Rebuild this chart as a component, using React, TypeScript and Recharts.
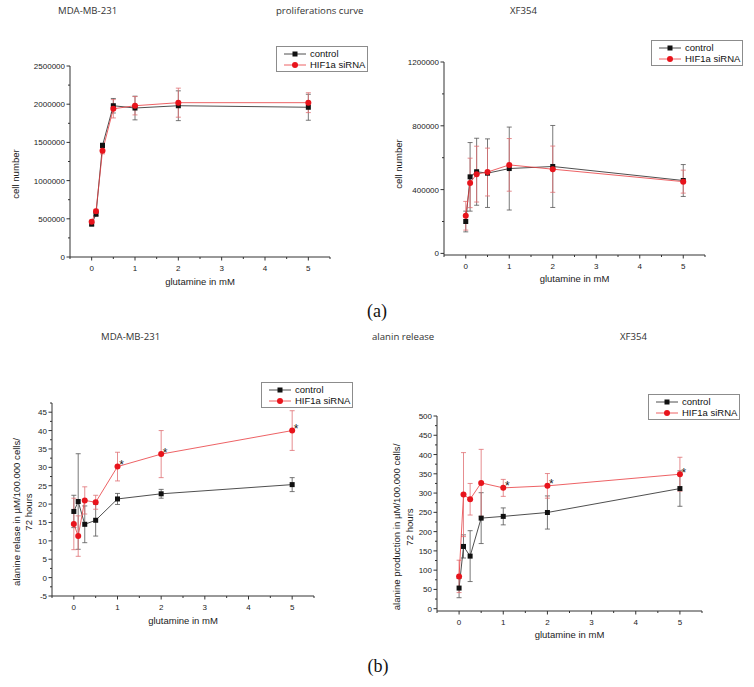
import { ComposedChart, Line, XAxis, YAxis, ErrorBar, Legend, LabelList, Label } from 'recharts'

// glutamine concentrations (mM), shared by all four panels
const glutamine = [0, 0.1, 0.25, 0.5, 1, 2, 5]
const glutamineTicks = [-0.5, 0, 0.5, 1, 1.5, 2, 2.5, 3, 3.5, 4, 4.5, 5, 5.5]
const seriesNames = ['control', 'HIF1a siRNA']

// (a) proliferation, MDA-MB-231
const mdaCellControl = [430000, 560000, 1460000, 1980000, 1950000, 1980000, 1960000]
const mdaCellControlErr = [20000, 20000, 30000, 95000, 155000, 195000, 170000]
const mdaCellHif = [460000, 600000, 1390000, 1940000, 1980000, 2020000, 2020000]
const mdaCellHifErr = [20000, 25000, 40000, 120000, 120000, 190000, 130000]
const mdaCellTicks = [0, 250000, 500000, 750000, 1000000, 1250000, 1500000, 1750000, 2000000, 2250000, 2500000]

// (a) proliferation, XF354
const xfCellControl = [200000, 480000, 512000, 503000, 532000, 545000, 457000]
const xfCellControlErr = [65000, 215000, 210000, 215000, 260000, 257000, 100000]
const xfCellHif = [236000, 442000, 497000, 510000, 555000, 528000, 450000]
const xfCellHifErr = [90000, 155000, 175000, 150000, 165000, 145000, 72000]
const xfCellTicks = [0, 200000, 400000, 600000, 800000, 1000000, 1200000]

// (b) alanine release, MDA-MB-231
const mdaAlaControl = [18.0, 20.7, 14.5, 15.6, 21.4, 22.8, 25.3]
const mdaAlaControlErr = [4.4, 13.0, 5.0, 4.3, 1.5, 1.2, 1.9]
const mdaAlaHif = [14.6, 11.3, 21.0, 20.5, 30.2, 33.6, 40.0]
const mdaAlaHifErr = [7.0, 5.5, 3.7, 1.9, 3.9, 6.4, 5.4]
const mdaAlaTicks = [-5, -2.5, 0, 2.5, 5, 7.5, 10, 12.5, 15, 17.5, 20, 22.5, 25, 27.5, 30, 32.5, 35, 37.5, 40, 42.5, 45, 47.5]

// (b) alanine production, XF354
const xfAlaControl = [53.5, 161.5, 136.4, 235, 239.5, 249.6, 311.7]
const xfAlaControlErr = [25, 30, 66, 66, 22, 43, 46]
const xfAlaHif = [83.8, 296, 284, 326.4, 313.5, 318.7, 348.9]
const xfAlaHifErr = [42, 109, 41, 87, 22, 32, 44]
const xfAlaTicks = [0, 25, 50, 75, 100, 125, 150, 175, 200, 225, 250, 275, 300, 325, 350, 375, 400, 425, 450, 475, 500]

// significance marks on the siRNA series
const alaStars = ['', '', '', '', '*', '*', '*']

const FONT = '"Liberation Sans", Arial, sans-serif'
const TITLE_FONT = '"Open Sans", "Noto Sans", sans-serif'
const AXIS = '#333'
const INK = '#222'
const RED = '#e8141c'
const TS = 4
const TM = 2

const buildRows = (c: number[], ce: number[], h: number[], he: number[], stars?: string[]) =>
  glutamine.map((x, i) => ({ x, control: c[i], cErr: ce[i], hif: h[i], hErr: he[i], star: stars ? stars[i] : '' }))

const renderXTick = (props: any) => {
  const { x, y, payload } = props
  const axisY = y - TS - TM
  const v = payload.value
  const major = Number.isInteger(v)
  return (
    <g>
      <line x1={x} x2={x} y1={axisY} y2={axisY + (major ? 3.5 : 2)} stroke={AXIS} />
      {major && (
        <text x={x} y={axisY + 13.5} textAnchor="middle" fontSize={8} fill={INK} fontFamily={FONT}>
          {v}
        </text>
      )}
    </g>
  )
}

const makeYTick = (step: number) => (props: any) => {
  const { x, y, payload } = props
  const axisX = x + TS + TM
  const v = payload.value
  const r = v / step
  const major = Math.abs(r - Math.round(r)) < 1e-6
  return (
    <g>
      <line x1={axisX - (major ? 3.5 : 2)} x2={axisX} y1={y} y2={y} stroke={AXIS} />
      {major && (
        <text x={axisX - 5} y={y + 3} textAnchor="end" fontSize={8} fill={INK} fontFamily={FONT}>
          {v}
        </text>
      )}
    </g>
  )
}

const squareDot = (props: any) => (
  <rect key={`sq-${props.index}`} x={props.cx - 2.5} y={props.cy - 2.5} width={5} height={5} fill="#111" />
)

const renderStar = (props: any) => {
  const { x, y, value } = props
  if (!value) return null
  return (
    <text x={x + 4} y={y + 2.5} textAnchor="middle" fontSize={12} fill={INK} fontFamily={FONT}>
      {value}
    </text>
  )
}

function LegendBox({ payload }: any) {
  const items = [...(payload || [])].sort(
    (a: any, b: any) => seriesNames.indexOf(a.value) - seriesNames.indexOf(b.value)
  )
  return (
    <div
      style={{
        border: '1px solid #8c8c8c',
        background: '#fff',
        padding: '1px 2px 1px 7px',
        fontFamily: FONT,
        fontSize: 9.5,
        color: '#111',
        lineHeight: '11px',
      }}
    >
      {items.map((p: any) => (
        <div key={p.value} style={{ display: 'flex', alignItems: 'center', height: 11, whiteSpace: 'nowrap' }}>
          <svg width={22} height={10} style={{ marginRight: 4 }}>
            <line x1={0} y1={5} x2={22} y2={5} stroke={p.color} strokeWidth={0.8} />
            {p.dataKey === 'control' ? (
              <rect x={8.5} y={2.5} width={5} height={5} fill="#111" />
            ) : (
              <circle cx={11} cy={5} r={3} fill={RED} />
            )}
          </svg>
          <span>{p.value}</span>
        </div>
      ))}
    </div>
  )
}

type PanelProps = {
  rows: any[]
  left: number
  top: number
  width: number
  height: number
  margin: { top: number; right: number; bottom: number; left: number }
  yWidth: number
  yDomain: [number, number]
  yTicks: number[]
  yStep: number
  yLabel: string[]
  yLabelX: number[]
  yLabelDy: number
  xLabelDy: number
  legendAt: [number, number]
  stars?: boolean
}

function Panel(p: PanelProps) {
  return (
    <div style={{ position: 'absolute', left: p.left, top: p.top }}>
      <ComposedChart width={p.width} height={p.height} data={p.rows} margin={p.margin}>
        <XAxis
          dataKey="x"
          type="number"
          domain={[-0.5, 5.5]}
          ticks={glutamineTicks}
          interval={0}
          height={40}
          tick={renderXTick}
          tickLine={false}
          tickSize={TS}
          tickMargin={TM}
          axisLine={{ stroke: AXIS }}
          allowDataOverflow
        >
          <Label
            content={(lp: any) => {
              const vb = lp.viewBox
              return (
                <text x={vb.x + vb.width / 2} y={vb.y + p.xLabelDy} textAnchor="middle" fontSize={9.5} fill={INK} fontFamily={FONT}>
                  glutamine in mM
                </text>
              )
            }}
          />
        </XAxis>
        <YAxis
          type="number"
          domain={p.yDomain}
          ticks={p.yTicks}
          interval={0}
          width={p.yWidth}
          tick={makeYTick(p.yStep)}
          tickLine={false}
          tickSize={TS}
          tickMargin={TM}
          axisLine={{ stroke: AXIS }}
          allowDataOverflow
        >
          <Label
            content={(lp: any) => {
              const vb = lp.viewBox
              const cy = vb.y + p.yLabelDy
              return (
                <g>
                  {p.yLabel.map((t, i) => {
                    const lx = vb.x + p.yLabelX[i]
                    return (
                      <text
                        key={t}
                        x={lx}
                        y={cy}
                        transform={`rotate(-90 ${lx} ${cy})`}
                        textAnchor="middle"
                        fontSize={9.6}
                        fill={INK}
                        fontFamily={FONT}
                      >
                        {t}
                      </text>
                    )
                  })}
                </g>
              )
            }}
          />
        </YAxis>
        <Legend
          layout="vertical"
          align="center"
          verticalAlign="middle"
          content={(lp: any) => <LegendBox payload={lp.payload} />}
          wrapperStyle={{ left: p.legendAt[0], top: p.legendAt[1], width: 'auto', height: 'auto' }}
        />
        <Line
          type="linear"
          dataKey="control"
          name={seriesNames[0]}
          stroke="#222"
          strokeWidth={0.8}
          dot={squareDot}
          activeDot={false}
          isAnimationActive={false}
        >
          <ErrorBar dataKey="cErr" width={2.5} stroke="#555" strokeWidth={0.8} direction="y" isAnimationActive={false} />
        </Line>
        <Line
          type="linear"
          dataKey="hif"
          name={seriesNames[1]}
          stroke="#e83a3e"
          strokeWidth={0.8}
          dot={{ r: 3, fill: RED, stroke: RED, strokeWidth: 0 }}
          activeDot={false}
          isAnimationActive={false}
        >
          <ErrorBar dataKey="hErr" width={2.5} stroke="#e07073" strokeWidth={0.8} direction="y" isAnimationActive={false} />
          {p.stars && <LabelList dataKey="star" content={renderStar} />}
        </Line>
      </ComposedChart>
    </div>
  )
}

const titleStyle = (left: number, cy: number): React.CSSProperties => ({
  position: 'absolute',
  left,
  top: cy - 7,
  lineHeight: '14px',
  fontFamily: TITLE_FONT,
  fontSize: 9.6,
  color: '#333',
  whiteSpace: 'nowrap',
})

const tagStyle = (cx: number, cy: number): React.CSSProperties => ({
  position: 'absolute',
  left: cx - 15,
  width: 30,
  top: cy - 11,
  lineHeight: '22px',
  textAlign: 'center',
  fontFamily: '"Liberation Serif", "DejaVu Serif", serif',
  fontSize: 18,
  color: '#111',
})

export default function App() {
  return (
    <div style={{ position: 'relative', width: 754, height: 687, background: '#fff', overflow: 'hidden' }}>
      <style>{'body{margin:0}'}</style>

      <div style={titleStyle(58, 11)}>MDA-MB-231</div>
      <div style={titleStyle(276, 11)}>proliferations curve</div>
      <div style={titleStyle(510, 11)}>XF354</div>

      <Panel
        rows={buildRows(mdaCellControl, mdaCellControlErr, mdaCellHif, mdaCellHifErr)}
        left={0}
        top={30}
        width={377}
        height={280}
        margin={{ top: 36, right: 47, bottom: 13, left: 0 }}
        yWidth={70}
        yDomain={[0, 2500000]}
        yTicks={mdaCellTicks}
        yStep={500000}
        yLabel={['cell number']}
        yLabelX={[19]}
        yLabelDy={108}
        xLabelDy={28}
        legendAt={[276, 16]}
      />
      <Panel
        rows={buildRows(xfCellControl, xfCellControlErr, xfCellHif, xfCellHifErr)}
        left={377}
        top={30}
        width={377}
        height={280}
        margin={{ top: 32, right: 49, bottom: 15, left: 0 }}
        yWidth={67}
        yDomain={[-10000, 1200000]}
        yTicks={xfCellTicks}
        yStep={400000}
        yLabel={['cell number']}
        yLabelX={[25]}
        yLabelDy={102}
        xLabelDy={27}
        legendAt={[274, 10]}
      />

      <div style={tagStyle(377, 311)}>(a)</div>

      <div style={titleStyle(101, 337)}>MDA-MB-231</div>
      <div style={titleStyle(372, 337)}>alanin release</div>
      <div style={titleStyle(620, 337)}>XF354</div>

      <Panel
        rows={buildRows(mdaAlaControl, mdaAlaControlErr, mdaAlaHif, mdaAlaHifErr, alaStars)}
        left={0}
        top={370}
        width={377}
        height={280}
        margin={{ top: 33, right: 63, bottom: 14, left: 0 }}
        yWidth={52}
        yDomain={[-5, 47.5]}
        yTicks={mdaAlaTicks}
        yStep={5}
        yLabel={['alanine relase in µM/100.000 cells/', '72 hours']}
        yLabelX={[20, 32]}
        yLabelDy={109}
        xLabelDy={28}
        legendAt={[261, 12]}
        stars
      />
      <Panel
        rows={buildRows(xfAlaControl, xfAlaControlErr, xfAlaHif, xfAlaHifErr, alaStars)}
        left={377}
        top={370}
        width={377}
        height={290}
        margin={{ top: 46, right: 52, bottom: 9, left: 0 }}
        yWidth={60}
        yDomain={[-6, 500]}
        yTicks={xfAlaTicks}
        yStep={50}
        yLabel={['alanine production in µM/100.000 cells/', '72 hours']}
        yLabelX={[23, 36]}
        yLabelDy={111}
        xLabelDy={27}
        legendAt={[271, 24]}
        stars
      />

      <div style={tagStyle(378, 666)}>(b)</div>
    </div>
  )
}
